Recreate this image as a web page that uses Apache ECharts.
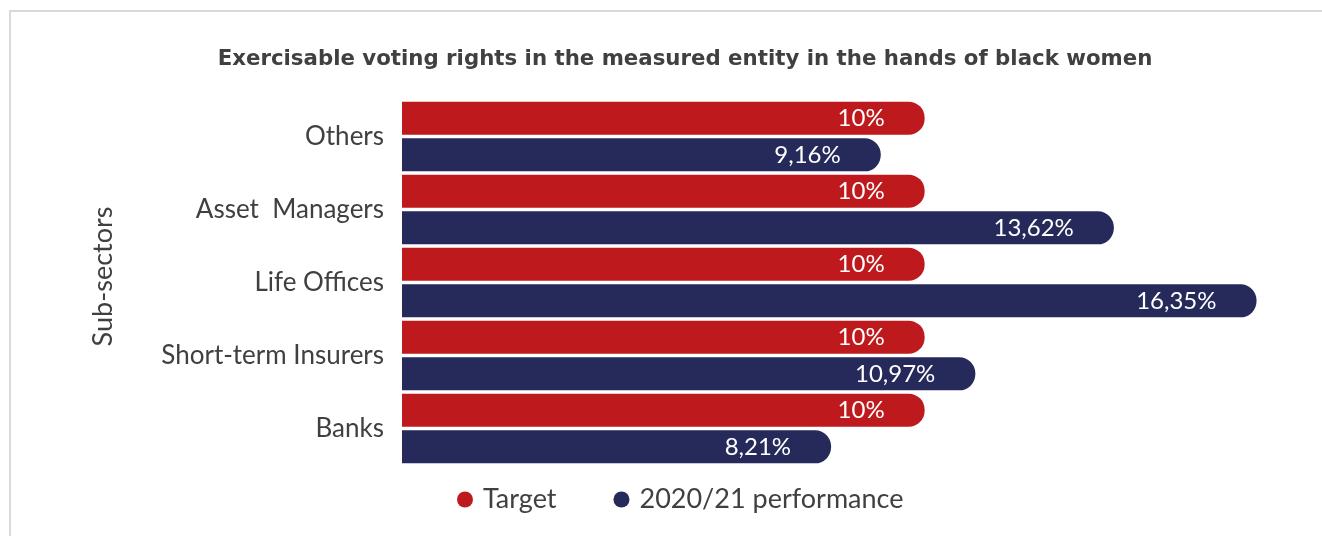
<!DOCTYPE html>
<html>
<head>
<meta charset="utf-8">
<title>Exercisable voting rights in the hands of black women</title>
<script src="https://cdn.jsdelivr.net/npm/echarts@6/dist/echarts.min.js"></script>
<style>
  html, body { margin: 0; padding: 0; background: #ffffff; }
  #chart { width: 1322px; height: 536px; }
</style>
</head>
<body>
<div id="chart"></div>
<script>
// Sub-sectors, listed top to bottom
const categories = ['Others', 'Asset  Managers', 'Life Offices', 'Short-term Insurers', 'Banks'];
// Target share (%) per sub-sector
const targetValues = [10, 10, 10, 10, 10];
// Achieved share (%) in 2020/21
const performanceValues = [9.16, 13.62, 16.35, 10.97, 8.21];
const seriesNames = ['Target', '2020/21 performance'];

const RED = '#BE1A1D';
const NAVY = '#252A5A';
const TEXT = '#404040';
const FONT = 'Lato, "DejaVu Sans", sans-serif';

// Values use a decimal comma
const fmtPct = p => String(p.value).replace('.', ',') + '%';

const chart = echarts.init(document.getElementById('chart'), null, { renderer: 'canvas' });

const barLabel = {
  show: true,
  position: 'insideRight',
  distance: 40,
  color: '#ffffff',
  fontFamily: FONT,
  fontSize: 24,
  formatter: fmtPct
};

chart.setOption({
  backgroundColor: '#ffffff',
  animation: false,
  graphic: [{
    type: 'rect',
    z: -10,
    shape: { x: 10, y: 11, width: 1400, height: 600 },
    style: { fill: 'none', stroke: '#d9d9d9', lineWidth: 2 }
  }],
  title: {
    text: 'Exercisable voting rights in the measured entity in the hands of black women',
    left: 680,
    top: 44,
    textAlign: 'center',
    textStyle: { fontFamily: '"DejaVu Sans", sans-serif', fontSize: 21.3, fontWeight: 'bold', color: TEXT }
  },
  legend: {
    data: seriesNames,
    left: 452,
    top: 481,
    icon: 'circle',
    itemWidth: 16,
    itemHeight: 16,
    itemGap: 57,
    textStyle: { fontFamily: FONT, fontSize: 27, color: TEXT, padding: [0, 0, 0, 5] }
  },
  grid: { left: 402, top: 100, height: 365, width: 888.5 },
  xAxis: {
    type: 'value',
    min: 0,
    max: 17,
    show: false
  },
  yAxis: {
    type: 'category',
    data: categories,
    inverse: true,
    axisLine: { show: false },
    axisTick: { show: false },
    axisLabel: { margin: 18, fontFamily: FONT, fontSize: 26, color: TEXT },
    name: 'Sub-sectors',
    nameLocation: 'middle',
    nameRotate: 90,
    nameGap: 285,
    nameTextStyle: { fontFamily: FONT, fontSize: 27, color: TEXT, padding: [0, 0, 0, 12] }
  },
  series: [
    {
      name: seriesNames[0],
      type: 'bar',
      data: targetValues,
      barWidth: 33,
      barGap: '11%',
      itemStyle: { color: RED, borderRadius: [0, 16, 16, 0] },
      label: barLabel
    },
    {
      name: seriesNames[1],
      type: 'bar',
      data: performanceValues,
      barWidth: 33,
      barGap: '11%',
      itemStyle: { color: NAVY, borderRadius: [0, 16, 16, 0] },
      label: barLabel
    }
  ]
});
</script>
</body>
</html>
